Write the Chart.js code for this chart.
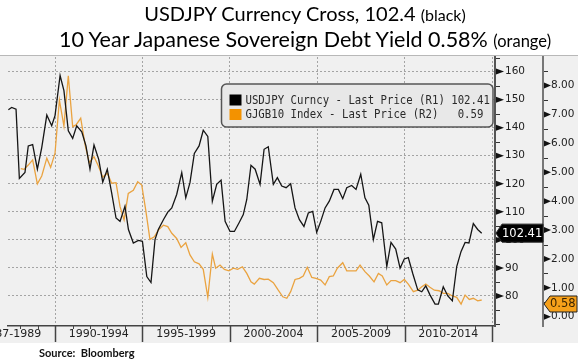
<!DOCTYPE html>
<html>
<head>
<meta charset="utf-8">
<script src="https://cdn.jsdelivr.net/npm/chart.js@4.4.1/dist/chart.umd.min.js"></script>
<style>
  html, body { margin: 0; padding: 0; background: #fff; }
  #wrap { position: relative; width: 584px; height: 362px; overflow: hidden; }
  #wrap canvas { position: absolute; left: 0; top: 0; }
  .title { position: absolute; left: 0; width: 610px; text-align: center; white-space: nowrap;
           font-family: Lato, 'Liberation Sans', sans-serif; line-height: 24px; color: #000; }
  #t1 { top: 1px; font-size: 20px; }
  #t1 small { font-size: 16px; }
  #t2 { top: 27px; font-size: 21.5px; }
  #t2 small { font-size: 16.5px; }
  #src { position: absolute; left: 39px; top: 346px; font: bold 11px/13px Lato, sans-serif; color: #111; }
</style>
</head>
<body>
<div id="wrap">
  <canvas id="chart" width="584" height="362"></canvas>
  <div class="title" id="t1">USDJPY Currency Cross, 102.4 <small>(black)</small></div>
  <div class="title" id="t2">10 Year Japanese Sovereign Debt Yield 0.58% <small>(orange)</small></div>
  <div id="src">Source:&nbsp; Bloomberg</div>
</div>
<script>
// USDJPY, quarterly-ish readings (decimal year, yen per dollar)
const fxYears = [1987.33, 1987.52, 1987.77, 1987.96, 1988.28, 1988.47, 1988.72, 1988.99, 1989.24, 1989.53,
  1989.81, 1990.00, 1990.29, 1990.51, 1990.76, 1991.01, 1991.24, 1991.53, 1991.77, 1992.00,
  1992.23, 1992.50, 1992.73, 1992.99, 1993.24, 1993.49, 1993.72, 1994.00, 1994.20, 1994.48,
  1994.77, 1995.00, 1995.25, 1995.49, 1995.72, 1995.91, 1996.20, 1996.45, 1996.68, 1996.96,
  1997.25, 1997.48, 1997.72, 1997.97, 1998.24, 1998.48, 1998.74, 1999.00, 1999.25, 1999.50,
  1999.73, 2000.01, 2000.26, 2000.53, 2000.77, 2000.97, 2001.21, 2001.45, 2001.73, 2001.96,
  2002.20, 2002.49, 2002.72, 2002.97, 2003.22, 2003.48, 2003.73, 2003.98, 2004.24, 2004.49,
  2004.74, 2004.97, 2005.20, 2005.45, 2005.69, 2005.96, 2006.21, 2006.46, 2006.69, 2006.97,
  2007.22, 2007.49, 2007.73, 2007.95, 2008.21, 2008.45, 2008.69, 2008.98, 2009.22, 2009.49,
  2009.74, 2009.98, 2010.21, 2010.46, 2010.75, 2010.98, 2011.21, 2011.45, 2011.74, 2011.93,
  2012.21, 2012.47, 2012.73, 2012.98, 2013.23, 2013.46, 2013.68, 2013.93, 2014.18, 2014.41];
const fxValues = [146.4, 147.2, 146.6, 121.9, 124.0, 133.5, 134.0, 125.2, 132.9, 144.5,
  140.7, 144.3, 158.6, 153.2, 138.9, 136.2, 140.7, 138.5, 133.5, 125.2,
  133.8, 128.7, 120.6, 125.2, 116.8, 107.8, 106.6, 112.0, 103.7, 98.9,
  99.8, 99.5, 86.9, 84.8, 100.1, 103.7, 107.2, 109.9, 111.4, 116.2,
  124.0, 115.0, 120.4, 130.8, 133.5, 139.1, 136.9, 113.8, 119.8, 121.3,
  106.6, 103.0, 103.0, 106.1, 109.0, 114.4, 126.6, 125.2, 119.8, 132.3,
  133.2, 119.8, 122.2, 119.2, 118.6, 120.0, 111.4, 107.2, 104.8, 109.6,
  110.2, 102.7, 106.6, 111.4, 113.8, 118.0, 118.0, 114.7, 118.6, 119.4,
  118.0, 123.4, 115.0, 112.4, 100.1, 106.6, 106.1, 90.5, 99.1, 96.7,
  89.9, 93.2, 93.7, 88.1, 82.2, 81.5, 83.6, 80.4, 77.1, 77.1,
  83.3, 80.0, 78.3, 90.5, 95.9, 99.1, 98.9, 105.8, 103.7, 102.4];

// 10y JGB yield (decimal year, %)
const jgbYears = [1988.04, 1988.23, 1988.47, 1988.72, 1988.99, 1989.24, 1989.53, 1989.75, 1990.00, 1990.25,
  1990.51, 1990.76, 1991.01, 1991.20, 1991.47, 1991.72, 1991.96, 1992.23, 1992.48, 1992.73,
  1992.99, 1993.24, 1993.49, 1993.72, 1993.95, 1994.19, 1994.48, 1994.73, 1994.96, 1995.19,
  1995.43, 1995.68, 1995.91, 1996.20, 1996.45, 1996.68, 1996.96, 1997.21, 1997.48, 1997.72,
  1997.97, 1998.24, 1998.48, 1998.74, 1999.00, 1999.19, 1999.44, 1999.69, 1999.95, 2000.20,
  2000.45, 2000.72, 2000.97, 2001.21, 2001.40, 2001.69, 2001.96, 2002.20, 2002.49, 2002.77,
  2003.03, 2003.26, 2003.48, 2003.73, 2003.98, 2004.20, 2004.43, 2004.69, 2004.93, 2005.20,
  2005.45, 2005.69, 2005.92, 2006.15, 2006.46, 2006.69, 2006.97, 2007.22, 2007.45, 2007.73,
  2007.98, 2008.25, 2008.50, 2008.72, 2008.98, 2009.22, 2009.49, 2009.74, 2009.98, 2010.21,
  2010.50, 2010.75, 2010.98, 2011.21, 2011.45, 2011.70, 2011.97, 2012.21, 2012.47, 2012.73,
  2012.98, 2013.23, 2013.46, 2013.70, 2013.93, 2014.18, 2014.41];
const jgbValues = [5.13, 5.10, 5.25, 5.43, 4.60, 4.87, 5.49, 5.17, 5.66, 7.50,
  6.60, 8.34, 6.58, 6.64, 6.87, 5.95, 5.33, 5.54, 5.22, 4.83,
  4.97, 4.62, 4.64, 3.81, 3.35, 4.27, 4.38, 4.67, 4.56, 3.69,
  2.68, 2.77, 3.00, 3.17, 3.12, 2.89, 2.71, 2.40, 2.56, 2.14,
  1.90, 1.83, 1.64, 0.67, 2.17, 1.68, 1.79, 1.64, 1.59, 1.68,
  1.64, 1.73, 1.50, 1.21, 1.13, 1.33, 1.29, 1.30, 1.18, 0.92,
  0.69, 0.64, 0.87, 1.29, 1.33, 1.41, 1.71, 1.36, 1.33, 1.27,
  1.10, 1.39, 1.41, 1.68, 1.87, 1.59, 1.59, 1.59, 1.79, 1.56,
  1.41, 1.21, 1.50, 1.41, 1.10, 1.25, 1.25, 1.18, 1.29, 1.13,
  0.87, 0.92, 1.04, 1.13, 1.02, 0.92, 0.90, 0.81, 0.81, 0.72,
  0.67, 0.44, 0.75, 0.60, 0.64, 0.55, 0.58];

const periodLabels = ['1987-1989', '1990-1994', '1995-1999', '2000-2004', '2005-2009', '2010-2014'];
const periodCenters = [1987.5, 1992.5, 1997.5, 2002.5, 2007.5, 2012.5];
const periodBreaks = [1990, 1995, 2000, 2005, 2010, 2015];
const r1Ticks = [80, 90, 100, 110, 120, 130, 140, 150, 160];
const r2Ticks = [0, 1, 2, 3, 4, 5, 6, 7, 8];

const legendRows = [
  { label: 'USDJPY Curncy - Last Price (R1)', gap: 1, value: '102.41', color: '#000000' },
  { label: 'GJGB10 Index - Last Price (R2)', gap: 3, value: '0.59', color: '#f39200' },
];
const lastTags = [
  { axis: 'y', value: 102.41, text: '102.41', fill: '#000000', ink: '#ffffff', nudge: 0 },
  { axis: 'y2', value: 0.58, text: '0.58', fill: '#f6a01a', ink: '#3b2400', nudge: 4 },
];

const FONT = "'DejaVu Sans', Verdana, sans-serif";
const MONO = "'DejaVu Sans Mono', 'Liberation Mono', monospace";
Chart.defaults.font.family = FONT;
Chart.defaults.color = '#222';

const toPoints = (xs, ys) => xs.map((x, i) => ({ x: x, y: ys[i] }));

// grey panel behind plot and axes
const panel = {
  id: 'panel',
  beforeDraw(chart) {
    const { ctx, chartArea: a, scales } = chart;
    ctx.save();
    ctx.fillStyle = '#f0f0f0';
    ctx.fillRect(0, a.top - 1, scales.y2.right, scales.x.bottom + 2 - a.top);
    ctx.strokeStyle = '#b8b8b8';
    ctx.lineWidth = 1;
    ctx.beginPath();
    ctx.moveTo(0, a.top - 1.5);
    ctx.lineTo(scales.y2.right, a.top - 1.5);
    ctx.stroke();
    ctx.restore();
  },
};

// year ticks, period separators, pointer ticks on the right axes
const axisMarks = {
  id: 'axisMarks',
  afterDraw(chart) {
    const { ctx, chartArea: a, scales } = chart;
    const x = scales.x, y = scales.y, y2 = scales.y2;
    ctx.save();
    ctx.strokeStyle = '#444';
    for (let yr = Math.ceil(x.min); yr <= Math.floor(x.max); yr++) {
      const px = Math.round(x.getPixelForValue(yr)) + 0.5;
      const major = periodBreaks.includes(yr);
      ctx.lineWidth = major ? 1.5 : 1;
      ctx.beginPath();
      ctx.moveTo(px, a.bottom);
      ctx.lineTo(px, major ? x.bottom : a.bottom + 3);
      ctx.stroke();
    }
    const pointers = (scale, step, majors, len) => {
      ctx.fillStyle = '#111';
      ctx.strokeStyle = '#333';
      ctx.lineWidth = 1;
      const first = Math.ceil(scale.min / step) * step;
      for (let v = first; v <= scale.max + 1e-9; v += step) {
        const py = scale.getPixelForValue(v);
        const x0 = scale.left + 1;
        if (majors.some(m => Math.abs(m - v) < 1e-6)) {
          ctx.beginPath();
          ctx.moveTo(x0, py - 3);
          ctx.lineTo(x0 + len, py);
          ctx.lineTo(x0, py + 3);
          ctx.closePath();
          ctx.fill();
        } else {
          ctx.beginPath();
          ctx.moveTo(x0, Math.round(py) + 0.5);
          ctx.lineTo(x0 + 4, Math.round(py) + 0.5);
          ctx.stroke();
        }
      }
    };
    pointers(y, 5, r1Ticks, 8);
    pointers(y2, 0.5, r2Ticks, 7);
    ctx.restore();
  },
};

// floating legend box with last values (Bloomberg-style narrow monospace)
const floatingLegend = {
  id: 'floatingLegend',
  afterDraw(chart) {
    const { ctx, chartArea: a } = chart;
    const bx = a.left + 213.5, by = a.top + 27, bw = a.right - 2 - bx, bh = 43;
    ctx.save();
    ctx.beginPath();
    ctx.roundRect(bx, by, bw, bh, 5);
    ctx.fillStyle = '#e8e8e8';
    ctx.fill();
    ctx.lineWidth = 1.5;
    ctx.strokeStyle = '#555';
    ctx.stroke();
    legendRows.forEach((r, i) => {
      const cy = by + 16 + i * 14.5;
      ctx.fillStyle = r.color;
      ctx.fillRect(bx + 8, cy - 5.5, 12, 11);
      ctx.save();
      ctx.translate(bx + 24, cy);
      ctx.scale(0.89, 1);
      ctx.font = '12px ' + MONO;
      ctx.textAlign = 'left';
      ctx.textBaseline = 'middle';
      ctx.fillStyle = '#2a2a2a';
      ctx.fillText(r.label + ' '.repeat(r.gap) + r.value, 0, 0.5);
      ctx.restore();
    });
    ctx.restore();
  },
};

// last-value tags on the axes
const valueTags = {
  id: 'valueTags',
  afterDraw(chart) {
    const { ctx, scales } = chart;
    ctx.save();
    lastTags.forEach(t => {
      const s = scales[t.axis];
      const py = s.getPixelForValue(t.value) + t.nudge;
      const x0 = s.left + 1, x1 = s.right - (t.axis === 'y' ? 0 : 1);
      const h = t.axis === 'y' ? 9 : 8;
      ctx.beginPath();
      ctx.moveTo(x0, py);
      ctx.lineTo(x0 + 6, py - h);
      ctx.lineTo(x1, py - h);
      ctx.lineTo(x1, py + h);
      ctx.lineTo(x0 + 6, py + h);
      ctx.closePath();
      ctx.fillStyle = t.fill;
      ctx.fill();
      ctx.lineWidth = 1;
      ctx.strokeStyle = '#222';
      ctx.stroke();
      ctx.fillStyle = t.ink;
      ctx.font = '11.5px ' + FONT;
      ctx.textAlign = 'left';
      ctx.textBaseline = 'middle';
      ctx.fillText(t.text, x0 + 6, py + 0.5);
    });
    ctx.restore();
  },
};

const noPad = s => { s.paddingLeft = 0; s.paddingRight = 0; s.paddingTop = 0; s.paddingBottom = 0; };

new Chart(document.getElementById('chart'), {
  type: 'line',
  data: {
    datasets: [
      {
        label: 'USDJPY',
        data: toPoints(fxYears, fxValues),
        yAxisID: 'y',
        borderColor: '#151515',
        borderWidth: 1.3,
        pointRadius: 0,
        tension: 0,
        order: 1,
      },
      {
        label: 'GJGB10',
        data: toPoints(jgbYears, jgbValues),
        yAxisID: 'y2',
        borderColor: '#eaa340',
        borderWidth: 1.3,
        pointRadius: 0,
        tension: 0,
        order: 2,
      },
    ],
  },
  options: {
    responsive: false,
    animation: false,
    events: [],
    layout: { padding: { top: 57, left: 8, right: 6, bottom: 20 } },
    plugins: { legend: { display: false }, tooltip: { enabled: false }, title: { display: false } },
    scales: {
      x: {
        type: 'linear',
        min: 1987.31,
        max: 2015.17,
        afterBuildTicks: s => {
          s.ticks = periodCenters.concat(periodBreaks).sort((p, q) => p - q).map(v => ({ value: v }));
        },
        afterFit: s => { s.height = 16; noPad(s); },
        ticks: {
          autoSkip: false,
          maxRotation: 0,
          padding: 2,
          color: '#222',
          font: { size: 11 },
          callback: v => {
            const i = periodCenters.indexOf(v);
            return i >= 0 ? periodLabels[i] : '';
          },
        },
        grid: {
          drawTicks: false,
          lineWidth: 1,
          color: c => (c.tick && periodBreaks.includes(c.tick.value) ? '#a4a4a4' : 'rgba(0,0,0,0)'),
          borderDash: [2, 2],
        },
        border: { color: '#444', width: 1.5, dash: [2, 2] },
      },
      y: {
        position: 'right',
        weight: 0,
        min: 69.3,
        max: 165.2,
        afterBuildTicks: s => { s.ticks = r1Ticks.map(v => ({ value: v })); },
        afterFit: s => { s.width = 48; noPad(s); },
        ticks: { padding: 10, color: '#222', font: { size: 10.5 } },
        grid: { drawTicks: false, color: '#a4a4a4', lineWidth: 1, borderDash: [2, 2] },
        border: { color: '#555', width: 2, dash: [2, 2] },
      },
      y2: {
        position: 'right',
        weight: 1,
        min: -0.32,
        max: 8.99,
        afterBuildTicks: s => { s.ticks = r2Ticks.map(v => ({ value: v })); },
        afterFit: s => { s.width = 35; noPad(s); },
        ticks: { padding: 8, color: '#222', font: { size: 10.5 }, callback: v => v.toFixed(2) },
        grid: { drawOnChartArea: false, drawTicks: false },
        border: { color: '#777', width: 2 },
      },
    },
  },
  plugins: [panel, axisMarks, floatingLegend, valueTags],
});
</script>
</body>
</html>
